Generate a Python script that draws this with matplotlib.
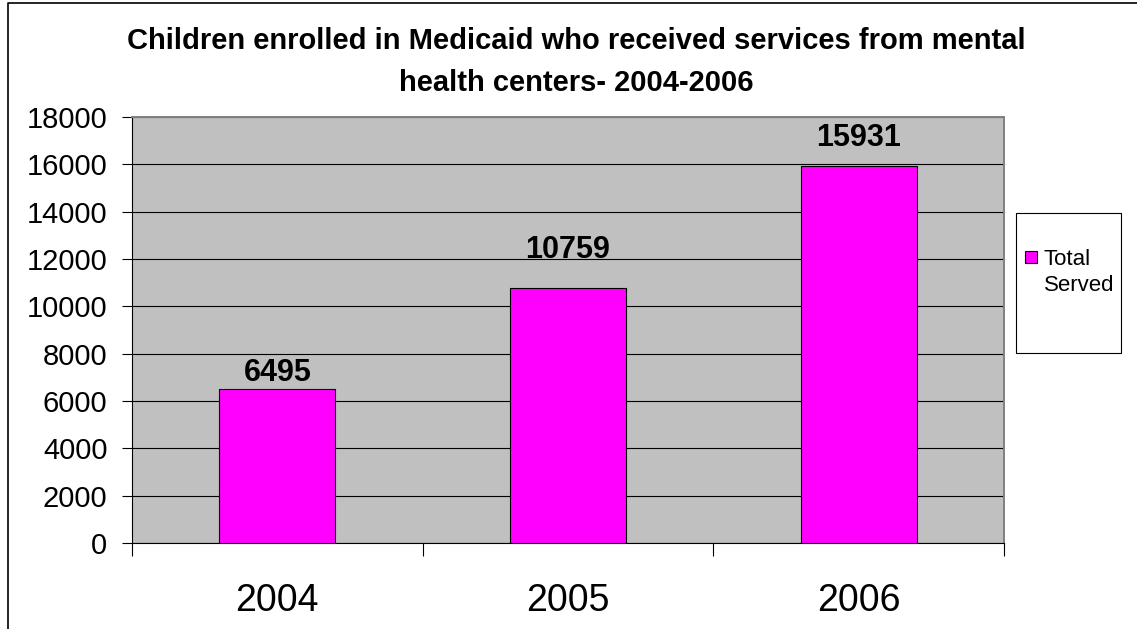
import matplotlib
matplotlib.use("Agg")
import matplotlib.pyplot as plt
from matplotlib.lines import Line2D
from matplotlib.patches import Rectangle

plt.rcParams['font.family'] = ['Liberation Sans', 'DejaVu Sans']

years = ['2004', '2005', '2006']
total_served = [6495, 10759, 15931]
series_name = 'Total Served'
title = 'Children enrolled in Medicaid who received services from mental\nhealth centers- 2004-2006'

# Excel places the value labels at slightly different heights (points above bar)
label_lift = [1, 17, 9.5]

fig = plt.figure(figsize=(11.37, 6.29), dpi=100)
ax = fig.add_axes([132 / 1137, 1 - 543 / 629, 872 / 1137, 426 / 629])
ax.set_facecolor('#C0C0C0')

x = range(len(years))
bars = ax.bar(x, total_served, width=0.4, color='#FF00FF', edgecolor='black',
              linewidth=0.8, zorder=3)

for i, (b, v) in enumerate(zip(bars, total_served)):
    ax.annotate(str(v), (b.get_x() + b.get_width() / 2, v),
                xytext=(0, label_lift[i]), textcoords='offset points',
                ha='center', va='bottom', fontsize=22, fontweight='bold', zorder=4)

ax.set_xlim(-0.5, len(years) - 0.5)
ax.set_ylim(0, 18000)
ax.set_yticks(range(0, 18001, 2000))
ax.yaxis.grid(True, color='black', linewidth=0.8, zorder=1)
ax.set_axisbelow(True)
ax.tick_params(axis='y', length=7.2, width=0.8, pad=10.5, labelsize=21)

# category boundaries carry the tick marks, names sit between them
ax.set_xticks([i - 0.5 for i in range(len(years) + 1)])
ax.set_xticklabels([])
ax.set_xticks(list(x), minor=True)
ax.set_xticklabels(years, minor=True)
ax.tick_params(axis='x', which='major', length=9, width=0.8, direction='out')
ax.tick_params(axis='x', which='minor', length=0, pad=29, labelsize=27)

for side in ('left', 'bottom'):
    ax.spines[side].set_color('black')
    ax.spines[side].set_linewidth(0.8)
for side in ('top', 'right'):
    ax.spines[side].set_color('#808080')
    ax.spines[side].set_linewidth(1.4)

fig.text(576 / 1137, 1 - 62 / 629, title, ha='center', va='center',
         fontsize=21, fontweight='bold', linespacing=1.63)

# legend box
fig.patches.append(Rectangle((1016 / 1137, 1 - 353 / 629), 105 / 1137, 140 / 629,
                             transform=fig.transFigure, facecolor='white',
                             edgecolor='black', linewidth=0.8))
fig.patches.append(Rectangle((1025 / 1137, 1 - 263 / 629), 12 / 1137, 12 / 629,
                             transform=fig.transFigure, facecolor='#FF00FF',
                             edgecolor='black', linewidth=0.8))
fig.text(1044 / 1137, 1 - 291 / 629, series_name.replace(' ', '\n'),
         ha='left', va='baseline', fontsize=16, linespacing=1.3)

# chart area border (top and left edges)
fig.add_artist(Line2D([8 / 1137, 8 / 1137, 1], [0, 1 - 3 / 629, 1 - 3 / 629],
                      transform=fig.transFigure, color='black', linewidth=1.2))

fig.savefig('out.png', dpi=100)
